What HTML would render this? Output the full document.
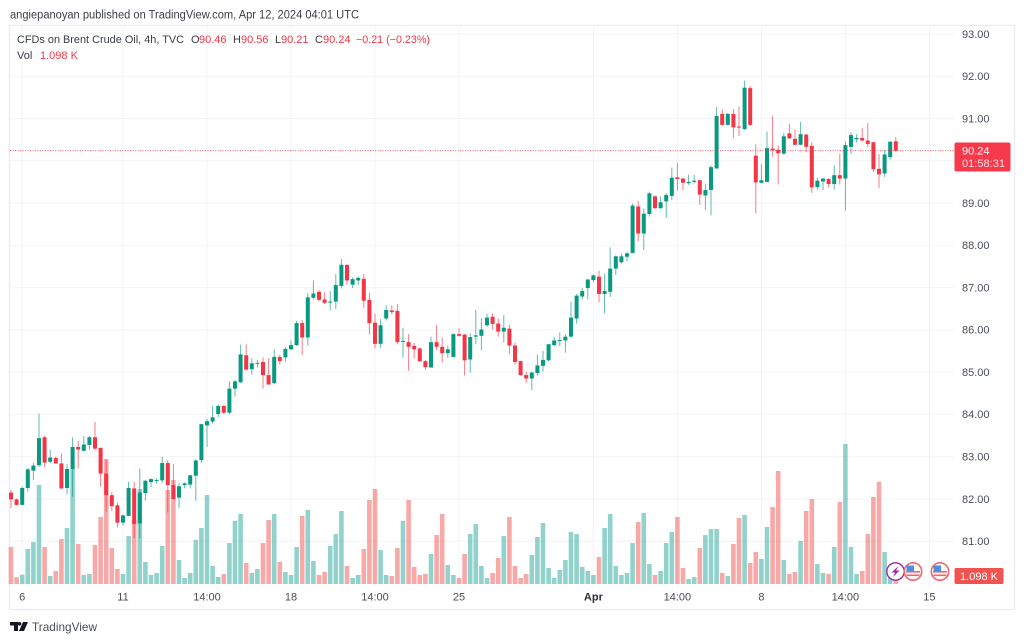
<!DOCTYPE html>
<html lang="en">
<head>
<meta charset="utf-8">
<title>CFDs on Brent Crude Oil, 4h</title>
<style>
html,body{margin:0;padding:0;background:#fff;width:1024px;height:643px;overflow:hidden}
svg{display:block;font-family:"Liberation Sans",Arial,sans-serif}
text{white-space:pre}
</style>
</head>
<body>
<svg id="chart" width="1024" height="643" viewBox="0 0 1024 643" xmlns="http://www.w3.org/2000/svg">
  <rect x="0" y="0" width="1024" height="643" fill="#ffffff"/>
  <text x="10" y="18.5" font-size="11.5" fill="#3a3d45" textLength="349" lengthAdjust="spacingAndGlyphs">angiepanoyan published on TradingView.com, Apr 12, 2024 04:01 UTC</text>
  <rect x="9.5" y="25.5" width="1005" height="584" fill="#ffffff" stroke="#eceef1" stroke-width="1.5"/>
  <g id="grid"></g>
  <g id="volumes"></g>
  <g id="candles"></g>
  <line id="priceLine" x1="10" x2="954" stroke="#f23645" stroke-width="1" stroke-dasharray="1 1.5" opacity="0.8"/>
  <g id="yAxis"></g>
  <g id="xAxis"></g>

  <g font-size="11" fill="#3a3d45">
    <text x="17" y="43" textLength="167" lengthAdjust="spacingAndGlyphs">CFDs on Brent Crude Oil, 4h, TVC</text>
    <text x="191" y="43">O</text>
    <text x="199" y="43" fill="#f23645">90.46</text>
    <text x="233" y="43">H</text>
    <text x="241" y="43" fill="#f23645">90.56</text>
    <text x="275" y="43">L</text>
    <text x="281" y="43" fill="#f23645">90.21</text>
    <text x="315" y="43">C</text>
    <text x="323" y="43" fill="#f23645">90.24</text>
    <text x="356" y="43" fill="#f23645" textLength="74" lengthAdjust="spacingAndGlyphs">−0.21 (−0.23%)</text>
    <text x="17" y="59">Vol</text>
    <text x="40" y="59" fill="#f23645">1.098 K</text>
  </g>

  <g>
    <rect x="954.5" y="142.5" width="56" height="29" rx="2" fill="#f6394b"/>
    <text x="962" y="154.5" font-size="11" fill="#ffffff">90.24</text>
    <text x="962" y="167" font-size="11" fill="#fde0e3" textLength="43" lengthAdjust="spacingAndGlyphs">01:58:31</text>
  </g>
  <g>
    <rect x="954.5" y="568" width="49" height="16" rx="1.5" fill="#f05350"/>
    <text x="979" y="580" font-size="11" fill="#ffffff" text-anchor="middle">1.098 K</text>
  </g>

  <g>
    <circle cx="895.5" cy="571.5" r="8.7" fill="#ffffff" stroke="#9c27b0" stroke-width="1.4"/>
    <polygon points="898.5,566 891.5,572.5 895,572.5 893,577 899.5,570.5 896,570.5" fill="#9c27b0"/>
  </g>
  <g>
    <circle cx="913" cy="571.5" r="8.7" fill="#ffffff" stroke="#f4646f" stroke-width="1.6"/>
    <rect x="906" y="571" width="14" height="1.6" fill="#f4646f"/>
    <rect x="906.5" y="574.5" width="13" height="1.6" fill="#f4646f"/>
    <rect x="906.5" y="565.5" width="7.5" height="6" fill="#4a90e2"/>
  </g>
  <g>
    <circle cx="940" cy="571.5" r="8.7" fill="#ffffff" stroke="#f4646f" stroke-width="1.6"/>
    <rect x="933" y="571" width="14" height="1.6" fill="#f4646f"/>
    <rect x="933.5" y="574.5" width="13" height="1.6" fill="#f4646f"/>
    <rect x="933.5" y="565.5" width="7.5" height="6" fill="#4a90e2"/>
  </g>

  <g>
    <path d="M10 622h8v9h-4v-5.5h-4zM19.5 622a1.8 1.8 0 1 1 0 3.6a1.8 1.8 0 0 1 0-3.6zM23 622h5l-4 9h-5z" fill="#131722"/>
    <text x="32" y="631" font-size="12" fill="#4a4e57" textLength="65" lengthAdjust="spacingAndGlyphs">TradingView</text>
  </g>
</svg>
<script>
const opens=[82.15,81.99,81.86,82.26,82.67,82.80,83.46,82.88,82.97,82.84,
82.26,82.71,83.23,83.14,83.28,83.46,83.21,82.60,82.09,81.85,
81.44,81.60,82.25,81.42,82.14,82.40,82.43,82.44,82.85,82.33,
82.03,82.33,82.34,82.55,82.92,83.74,83.83,84.01,84.20,84.04,
84.61,84.76,85.40,85.07,85.20,85.24,84.93,84.74,85.36,85.35,
85.54,85.64,86.16,85.82,86.76,86.90,86.72,86.65,86.67,87.04,
87.54,87.07,87.17,87.21,86.71,86.17,85.67,86.27,86.46,86.45,
85.72,85.71,85.62,85.56,85.26,85.11,85.71,85.60,85.45,85.36,
85.90,85.89,85.30,85.84,85.86,86.11,86.31,86.15,85.96,86.03,
85.63,85.26,84.93,84.85,84.98,85.15,85.28,85.64,85.75,85.75,
85.84,86.27,86.79,86.99,87.18,87.26,86.85,86.90,87.45,87.60,
87.73,87.82,88.92,88.28,88.74,89.16,88.88,89.04,89.17,89.61,
89.58,89.47,89.50,89.54,89.18,89.31,89.82,91.11,90.85,91.11,
90.81,90.75,91.72,90.12,89.48,89.50,90.29,90.26,90.17,90.65,
90.52,90.38,90.62,90.35,89.38,89.51,89.57,89.45,89.66,89.58,
90.33,90.51,90.54,90.48,90.44,89.81,89.70,90.09,90.46];
const highs=[82.21,82.01,82.29,82.73,82.86,84.02,83.50,83.16,83.00,83.08,
82.82,83.46,83.37,83.49,83.49,83.82,83.21,82.92,82.17,81.91,
81.63,82.41,82.41,82.72,82.45,82.49,82.49,83.00,82.92,82.83,
82.39,82.39,82.57,82.94,83.78,83.90,84.20,84.24,84.22,84.78,
84.82,85.65,85.66,85.33,85.29,85.35,85.33,85.54,85.41,85.59,
85.75,86.21,86.23,86.87,87.17,86.94,86.89,86.92,87.32,87.68,
87.54,87.24,87.26,87.32,86.88,86.38,86.26,86.58,86.58,86.61,
86.05,85.90,85.69,85.59,85.29,85.84,86.12,85.82,85.63,85.92,
86.04,85.90,85.92,86.47,86.27,86.38,86.39,86.27,86.35,86.12,
85.70,85.27,85.01,85.01,85.41,85.50,85.67,85.84,85.94,85.89,
86.67,86.85,86.99,87.21,87.31,87.40,87.33,87.95,87.76,87.81,
87.85,88.99,89.05,88.87,89.27,89.18,89.16,89.24,89.84,89.95,
89.60,89.67,89.67,89.56,89.46,89.89,91.27,91.21,91.13,91.23,
91.28,91.90,91.77,90.39,89.92,90.69,91.07,90.36,90.66,90.88,
90.74,90.92,90.64,90.44,89.59,89.59,89.59,89.89,90.17,90.46,
90.67,90.63,90.78,90.89,90.44,90.16,90.25,90.47,90.56];
const lows=[81.79,81.85,81.85,82.17,82.45,82.76,82.76,82.84,82.83,82.23,
82.11,82.05,82.73,83.12,83.17,83.16,82.29,81.70,81.72,81.33,
81.37,81.59,81.07,81.07,81.96,82.28,82.36,82.37,81.68,81.98,
81.78,82.25,82.25,81.96,82.85,83.23,83.78,83.94,84.01,84.00,
84.42,84.74,85.04,84.94,85.11,84.61,84.70,84.71,85.18,85.25,
85.52,85.62,85.41,85.63,86.72,86.68,86.61,86.46,86.49,86.98,
87.07,86.99,87.06,86.51,85.89,85.56,85.57,86.22,86.37,85.66,
85.34,85.03,85.33,85.23,85.05,85.11,85.52,85.23,85.34,85.35,
85.84,84.92,84.99,85.66,85.52,86.07,86.01,85.84,85.70,85.43,
85.18,84.91,84.74,84.57,84.92,85.01,85.26,85.61,85.61,85.46,
85.82,86.15,86.72,86.72,87.13,86.65,86.39,86.78,87.30,87.57,
87.62,87.81,88.09,87.89,88.68,88.86,88.86,88.65,89.07,89.29,
89.30,89.43,89.46,88.96,88.84,88.71,89.81,90.83,90.84,90.54,
90.59,90.73,90.82,88.76,89.46,89.49,90.10,89.44,90.14,90.52,
90.37,90.37,90.20,89.24,89.32,89.31,89.37,89.32,89.44,88.82,
90.16,90.43,90.47,90.32,89.73,89.36,89.62,90.03,90.21];
const closes=[81.99,81.86,82.26,82.70,82.79,83.44,82.86,82.98,82.84,82.25,
82.71,83.23,83.17,83.29,83.46,83.19,82.60,82.09,81.83,81.44,
81.61,82.26,81.41,82.15,82.43,82.47,82.45,82.85,82.33,82.00,
82.30,82.37,82.56,82.91,83.77,83.84,83.93,84.20,84.04,84.61,
84.78,85.42,85.06,85.21,85.22,84.93,84.71,85.36,85.26,85.55,
85.64,86.16,85.82,86.77,86.86,86.71,86.64,86.67,87.06,87.54,
87.17,87.20,87.23,86.69,86.16,85.67,86.11,86.47,86.42,85.71,
85.74,85.60,85.54,85.26,85.12,85.71,85.60,85.45,85.54,85.90,
85.86,85.28,85.83,85.87,86.01,86.29,86.14,85.96,86.05,85.63,
85.24,84.93,84.85,84.99,85.16,85.29,85.66,85.75,85.76,85.84,
86.29,86.81,86.92,87.19,87.29,86.85,86.92,87.45,87.74,87.74,
87.81,88.94,88.28,88.75,89.23,88.88,89.02,89.19,89.60,89.57,
89.48,89.50,89.53,89.20,89.31,89.85,91.06,90.85,91.11,90.79,
90.79,91.73,90.85,89.49,89.54,90.30,90.25,90.18,90.58,90.53,
90.38,90.63,90.33,89.37,89.53,89.58,89.45,89.66,89.58,90.37,
90.61,90.54,90.48,90.40,89.80,89.68,90.15,90.45,90.24];
const volumes=[4.81,0.87,1.21,4.55,5.45,12.86,4.81,1.04,1.69,5.84,
7.27,14.94,5.19,1.17,1.30,5.06,8.70,16.23,4.68,1.95,
1.30,6.23,8.31,12.34,2.86,1.17,1.43,4.94,12.21,13.51,
3.12,0.78,1.43,5.71,7.27,11.56,2.34,0.91,1.30,5.32,
8.18,9.09,2.73,1.43,1.95,5.32,8.31,9.09,2.86,1.56,
1.17,4.81,8.83,9.61,2.99,1.17,1.56,4.94,6.49,9.48,
2.34,0.78,1.17,4.55,10.91,12.34,4.42,1.17,1.04,4.68,
8.18,10.91,2.21,1.17,1.30,3.90,6.36,9.09,2.47,1.17,
0.78,3.90,6.49,7.79,2.34,0.78,1.43,3.38,6.23,8.70,
2.34,0.78,1.30,3.77,6.10,7.92,2.08,0.78,1.82,3.12,
6.75,6.49,2.21,1.69,1.17,3.51,7.27,9.09,2.34,1.17,
1.43,5.32,8.05,9.22,2.60,1.17,1.69,5.32,6.75,8.70,
2.08,0.65,0.91,4.68,6.36,7.14,7.14,1.43,1.04,5.19,
8.57,8.96,2.73,4.16,3.25,7.40,10.00,14.68,3.12,1.30,
1.56,5.58,9.48,11.04,2.60,1.43,1.30,4.81,10.65,18.18,
4.81,1.30,1.69,6.49,11.30,13.25,4.16,1.04,1.098];
const priceTicks=[93,92,91,90,89,88,87,86,85,84,83,82,81];
const timeTickBars=[2,20,35,50,65,80,104,119,134,149,164];
const timeTickLabels=['6','11','14:00','18','14:00','25','Apr','14:00','8','14:00','15'];
const lastPrice=90.24;

const NS='http://www.w3.org/2000/svg';
const X0=11, BAR_STEP=5.6;
const Y93=34, PX_PER_UNIT=42.27, VOL_BASE=584, PX_PER_K=7.7;
const xScale=i=>X0+BAR_STEP*i;
const yScale=p=>Y93+(93-p)*PX_PER_UNIT;
const volH=v=>v*PX_PER_K;
const UP='#089981', DOWN='#f23645', VUP='#26a69a', VDOWN='#ef5350';

function mk(tag,attrs,parent,txt){
  const el=document.createElementNS(NS,tag);
  for(const k in attrs) el.setAttribute(k,attrs[k]);
  if(txt!==undefined) el.textContent=txt;
  parent.appendChild(el);
  return el;
}
const grid=document.getElementById('grid');
const yAxis=document.getElementById('yAxis');
const xAxis=document.getElementById('xAxis');
const vols=document.getElementById('volumes');
const candles=document.getElementById('candles');

priceTicks.forEach(p=>{
  const gl=mk('line',{x1:10.5,x2:954,y1:yScale(p),y2:yScale(p),stroke:'#f3f4f6','stroke-width':1},grid);
  
  
  const t=mk('text',{x:962,y:yScale(p)+3.8,'font-size':11,fill:'#4a4e57'},yAxis,p.toFixed(2));
  
  
});
timeTickBars.forEach((b,k)=>{
  const x=xScale(b);
  const gl=mk('line',{x1:x,x2:x,y1:26.5,y2:586,stroke:'#f3f4f6','stroke-width':1},grid);
  
  
  const lab=timeTickLabels[k];
  const t=mk('text',{x:x,y:600.5,'font-size':11,'text-anchor':'middle',fill:lab==='Apr'?'#2a2e39':'#4a4e57','font-weight':lab==='Apr'?'bold':'normal'},xAxis,lab);
  
  
});
volumes.forEach((v,i)=>{
  const up=closes[i]>=opens[i];
  const h=volH(v);
  const r=mk('rect',{x:xScale(i)-2.3,y:VOL_BASE-h,width:4.6,height:h,fill:up?VUP:VDOWN,opacity:0.5},vols);
  
  
});
opens.forEach((o,i)=>{
  const c=closes[i], up=c>=o, col=up?UP:DOWN, x=xScale(i);
  const w=mk('line',{x1:x,x2:x,y1:yScale(highs[i]),y2:yScale(lows[i]),stroke:col,'stroke-width':1,opacity:0.65},candles);
  
  
  const top=yScale(Math.max(o,c)), bot=yScale(Math.min(o,c));
  const b=mk('rect',{x:x-2,y:top,width:4,height:Math.max(bot-top,1),fill:col},candles);
  
  
});
const pl=document.getElementById('priceLine');
pl.setAttribute('y1',yScale(lastPrice));
pl.setAttribute('y2',yScale(lastPrice));
</script>
</body>
</html>
